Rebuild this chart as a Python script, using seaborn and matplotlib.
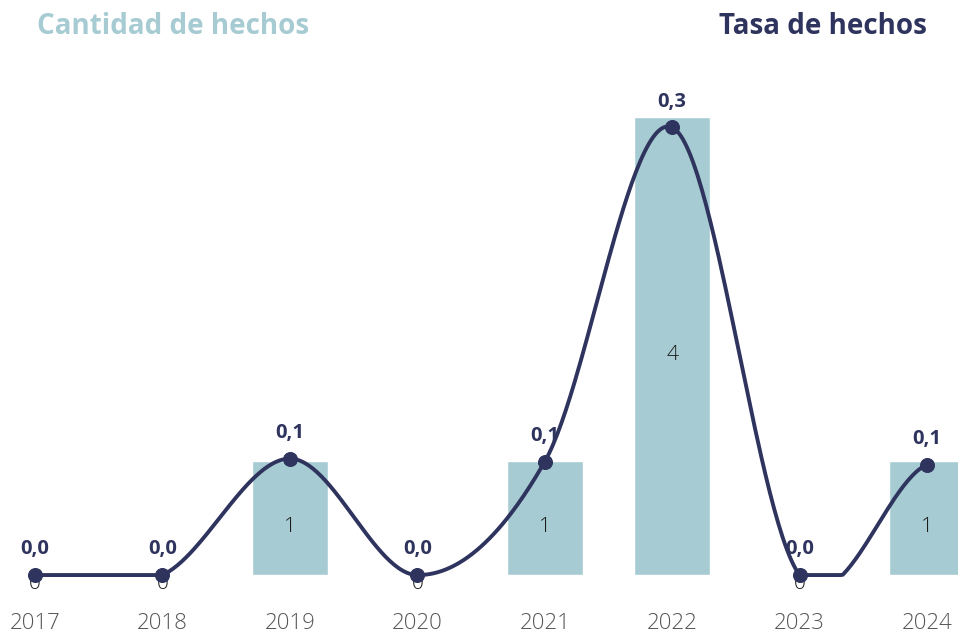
import numpy as np
import pandas as pd
import matplotlib
matplotlib.use("Agg")
import matplotlib.pyplot as plt
import seaborn as sns

# Data
years = ["2017", "2018", "2019", "2020", "2021", "2022", "2023", "2024"]
cantidad = [0, 0, 1, 0, 1, 4, 0, 1]
tasa = [0.0, 0.0, 0.078, 0.0, 0.076, 0.30, 0.0, 0.074]

BAR_COLOR = "#A6CBD2"
LINE_COLOR = "#2E345E"
FONT = ["Open Sans", "DejaVu Sans"]

sns.set_theme(style="white")
plt.rcParams["font.family"] = FONT


def smooth_curve(y, samples=60):
    """Catmull-Rom interpolation through the points (x = 0..n-1)."""
    y = np.asarray(y, dtype=float)
    n = len(y)
    ext = np.concatenate([[y[0]], y, [y[-1]]])
    xs, ys = [], []
    for i in range(n - 1):
        p0, p1, p2, p3 = ext[i], ext[i + 1], ext[i + 2], ext[i + 3]
        m1 = (p2 - p0) / 2.0
        m2 = (p3 - p1) / 2.0
        t = np.linspace(0, 1, samples, endpoint=(i == n - 2))
        h00 = 2 * t**3 - 3 * t**2 + 1
        h10 = t**3 - 2 * t**2 + t
        h01 = -2 * t**3 + 3 * t**2
        h11 = t**3 - t**2
        xs.append(i + t)
        ys.append(h00 * p1 + h10 * m1 + h01 * p2 + h11 * m2)
    return np.concatenate(xs), np.maximum(np.concatenate(ys), 0)


df = pd.DataFrame({"year": years, "cantidad": cantidad, "tasa": tasa})

fig = plt.figure(figsize=(9.58, 6.34), dpi=100)
ax = fig.add_axes([0, 0.093, 1, 0.812])

sns.barplot(data=df, x="year", y="cantidad", color=BAR_COLOR, width=0.6,
            saturation=1, ax=ax, zorder=1)
ax.set_xlim(-0.275, 7.243)
ax.set_ylim(0, 4.5)
ax.set_xlabel("")
ax.set_ylabel("")
ax.set_yticks([])
ax.tick_params(axis="x", length=0, pad=27, labelsize=16, labelcolor="#555555")
for lbl in ax.get_xticklabels():
    lbl.set_fontweight("light")
for s in ax.spines.values():
    s.set_visible(False)

# Count labels inside the bars
for i, v in enumerate(cantidad):
    ax.annotate(str(v), (i, v / 2), xytext=(0, -6.5), textcoords="offset points",
                ha="center", va="center", fontsize=15, fontweight="light",
                color="#1a1a1a", zorder=3, annotation_clip=False)

# Rate line on a secondary axis
ax2 = ax.twinx()
cx, cy = smooth_curve(tasa)
sns.lineplot(x=cx, y=cy, color=LINE_COLOR, linewidth=2.8, ax=ax2, zorder=4)
sns.scatterplot(x=np.arange(len(tasa)), y=tasa, color=LINE_COLOR, s=100,
                edgecolor=LINE_COLOR, ax=ax2, zorder=5)
for ln in ax2.lines:
    ln.set_clip_on(False)
    ln.set_solid_capstyle("round")
for coll in ax2.collections:
    coll.set_clip_on(False)
ax2.set_ylim(0, 0.345)
ax2.set_yticks([])
ax2.set_ylabel("")
for s in ax2.spines.values():
    s.set_visible(False)
ax2.set_xlim(ax.get_xlim())

for i, v in enumerate(tasa):
    ax2.annotate(f"{v:.1f}".replace(".", ","), (i, v), xytext=(0, 15),
                 textcoords="offset points", ha="center", va="baseline",
                 fontsize=14.5, fontweight="bold", color=LINE_COLOR, zorder=6)

fig.text(37 / 958, 1 - 27 / 634, "Cantidad de hechos", ha="left", va="center",
         fontsize=20, fontweight="bold", color=BAR_COLOR)
fig.text(927 / 958, 1 - 27 / 634, "Tasa de hechos", ha="right", va="center",
         fontsize=20, fontweight="bold", color=LINE_COLOR)

fig.savefig("out.png", dpi=100, facecolor="white")
